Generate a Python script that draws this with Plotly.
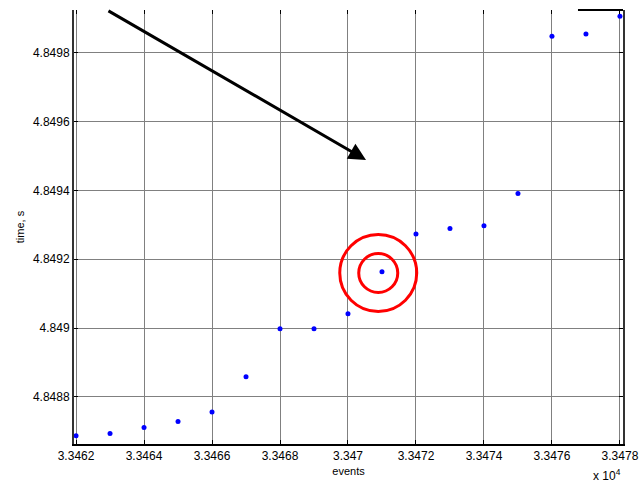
import plotly.graph_objects as go

# ---- data ----
events = [33462, 33463, 33464, 33465, 33466, 33467, 33468, 33469, 33470,
          33471, 33472, 33473, 33474, 33475, 33476, 33477, 33478]
times = [4.848687, 4.848694, 4.848711, 4.848729, 4.848756, 4.848859, 4.848998,
         4.848998, 4.849042, 4.849164, 4.849273, 4.849289, 4.849297, 4.849391,
         4.849848, 4.849854, 4.849906]

x_tick_vals = [33462, 33464, 33466, 33468, 33470, 33472, 33474, 33476, 33478]
x_tick_text = ["3.3462", "3.3464", "3.3466", "3.3468", "3.347", "3.3472",
               "3.3474", "3.3476", "3.3478"]
y_tick_vals = [4.8488, 4.8490, 4.8492, 4.8494, 4.8496, 4.8498]
y_tick_text = ["4.8488", "4.849", "4.8492", "4.8494", "4.8496", "4.8498"]

x_range = [33461.94, 33478.09]
y_range = [4.8486633, 4.8499240]

# annotation geometry (data coordinates)
arrow_tail = (33462.91, 4.8499240)
arrow_tip = (33470.53, 4.8494885)
circle_center = (33470.89, 4.849160)
circle_inner = (0.574, 5.66e-5)
circle_outer = (1.132, 1.118e-4)

FONT = "Liberation Sans, Arial, sans-serif"

fig = go.Figure()
fig.add_trace(go.Scatter(
    x=events, y=times, mode="markers",
    marker=dict(color="#0000ff", size=5, line=dict(width=0)),
    showlegend=False, cliponaxis=True,
))

# invisible trace to activate top axis (ticks only)
fig.add_trace(go.Scatter(x=[events[0]], y=[times[0]], xaxis="x2", mode="markers",
                         marker=dict(opacity=0), showlegend=False, hoverinfo="skip"))

for (rx, ry) in (circle_inner, circle_outer):
    fig.add_shape(type="circle", xref="x", yref="y",
                  x0=circle_center[0] - rx, x1=circle_center[0] + rx,
                  y0=circle_center[1] - ry, y1=circle_center[1] + ry,
                  line=dict(color="#ff0000", width=3))

fig.add_annotation(x=arrow_tip[0], y=arrow_tip[1], ax=arrow_tail[0], ay=arrow_tail[1],
                   xref="x", yref="y", axref="x", ayref="y", text="",
                   showarrow=True, arrowhead=2, arrowsize=1.15, arrowwidth=3,
                   arrowcolor="#000000", standoff=0)

# top-right stray border segment
fig.add_shape(type="line", xref="paper", yref="paper", x0=0.918, x1=1.0, y0=1.0, y1=1.0,
              line=dict(color="#000000", width=2))

fig.add_annotation(xref="paper", yref="paper", x=1.0, y=-0.094, xanchor="right", yanchor="bottom",
                   text="x 10<sup>4</sup>", showarrow=False,
                   font=dict(family=FONT, size=12, color="#000000"))

axis_common = dict(showgrid=True, gridcolor="#808080", gridwidth=1, zeroline=False,
                   ticks="inside", ticklen=4, tickwidth=1, tickcolor="#000000",
                   automargin=False,
                   tickfont=dict(family=FONT, size=12, color="#000000"))

fig.update_layout(
    width=639, height=481,
    margin=dict(l=74, r=16, t=10, b=37),
    paper_bgcolor="white", plot_bgcolor="white",
    xaxis=dict(range=x_range, tickmode="array", tickvals=x_tick_vals, ticktext=x_tick_text,
               showline=True, linecolor="#000000", linewidth=2, mirror=False,
               title=dict(text="events", font=dict(family=FONT, size=11, color="#000000"),
                          standoff=5),
               **axis_common),
    xaxis2=dict(range=x_range, overlaying="x", side="top", tickmode="array",
                tickvals=x_tick_vals, showticklabels=False, showgrid=False, showline=False,
                zeroline=False, ticks="inside", ticklen=4, tickwidth=1, tickcolor="#000000",
                automargin=False),
    yaxis=dict(range=y_range, tickmode="array", tickvals=y_tick_vals, ticktext=y_tick_text,
               showline=True, linecolor="#333333", linewidth=2, mirror="ticks",
               title=dict(text="time, s", font=dict(family=FONT, size=11, color="#000000"),
                          standoff=6),
               **axis_common),
    font=dict(family=FONT, color="#000000"),
)

fig.write_html("out.html")
